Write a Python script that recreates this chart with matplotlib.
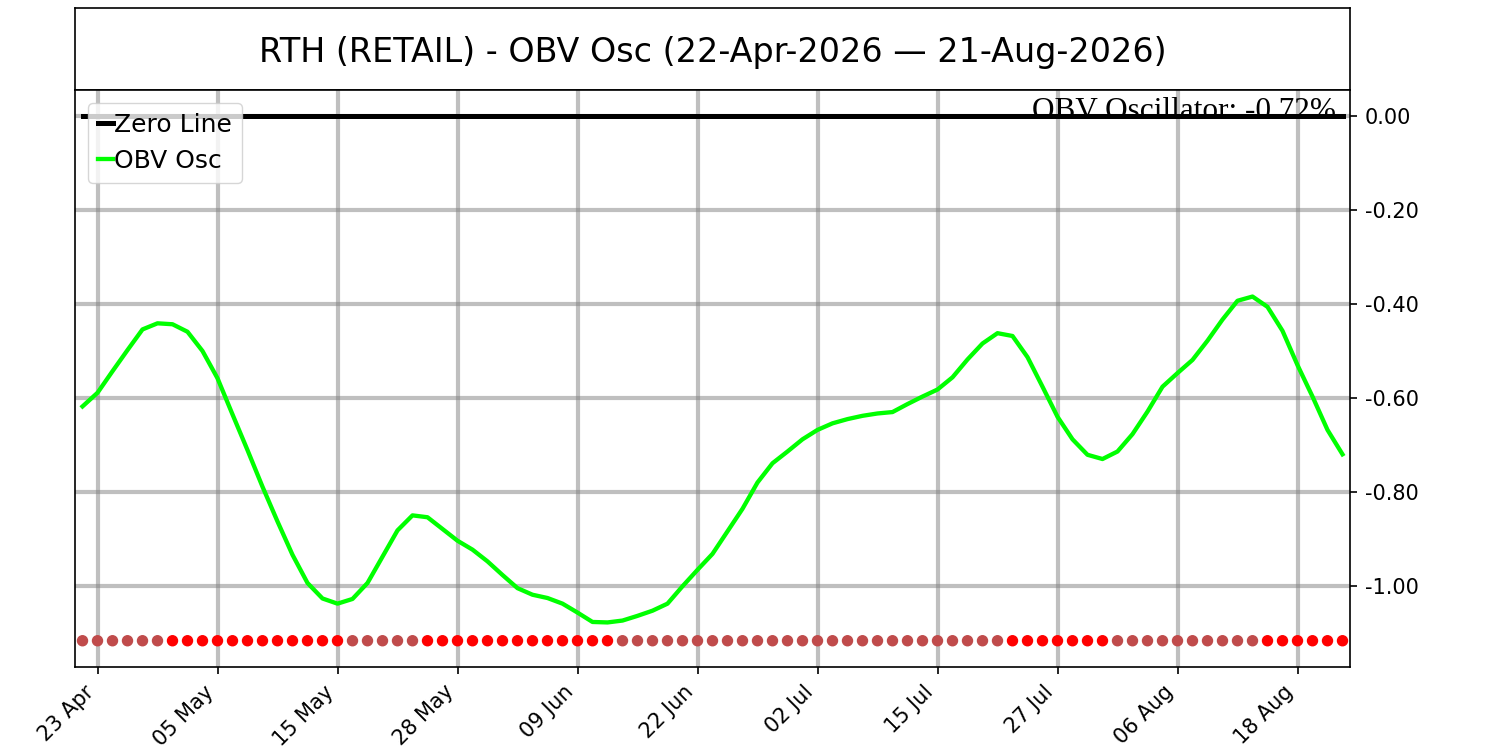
import numpy as np
import pandas as pd
import matplotlib
matplotlib.use("Agg")
import matplotlib.pyplot as plt
from matplotlib.ticker import FormatStrFormatter

ticker_name = "RTH (RETAIL)"
start_date = "2026-04-22"
end_date = "2026-08-21"
market_holidays = ["2026-05-25", "2026-06-19", "2026-07-03"]

# OBV oscillator values, one per trading day (in %)
obv_osc = [-0.618, -0.589, -0.543, -0.498, -0.454, -0.441, -0.443, -0.459, -0.500, -0.558,
	-0.635, -0.711, -0.789, -0.863, -0.934, -0.994, -1.027, -1.038, -1.028, -0.994,
	-0.938, -0.882, -0.850, -0.854, -0.879, -0.904, -0.923, -0.948, -0.977, -1.005,
	-1.019, -1.026, -1.038, -1.057, -1.077, -1.078, -1.074, -1.064, -1.053, -1.038,
	-1.001, -0.966, -0.932, -0.884, -0.836, -0.780, -0.739, -0.714, -0.688, -0.668,
	-0.654, -0.645, -0.638, -0.633, -0.630, -0.613, -0.597, -0.582, -0.556, -0.518,
	-0.484, -0.462, -0.468, -0.513, -0.576, -0.640, -0.688, -0.721, -0.730, -0.714,
	-0.677, -0.629, -0.576, -0.547, -0.519, -0.478, -0.433, -0.393, -0.384, -0.406,
	-0.457, -0.530, -0.597, -0.668, -0.720]
signal_level = -1.117

dates = pd.bdate_range(start_date, end_date, freq="C", holidays=market_holidays)
x = np.arange(len(obv_osc))
osc = np.array(obv_osc)

# falling -> red, rising -> muted red
diff = np.diff(osc, prepend=np.nan)
dot_colors = np.where(diff < 0, "#ff0000", "#c04b4b")

fig = plt.figure(figsize=(15, 7.5), dpi=100)
ax_title = fig.add_axes([0.05, 0.88, 0.85, 0.1093])
ax = fig.add_axes([0.05, 0.1107, 0.85, 0.7693])

for a in (ax, ax_title):
	for sp in a.spines.values():
		sp.set_linewidth(1.2)

ax_title.set_xticks([])
ax_title.set_yticks([])
ax_title.text(0.5, 0.46, "%s - OBV Osc (%s \u2014 %s)" % (ticker_name, dates[0].strftime("%d-%b-%Y"), dates[-1].strftime("%d-%b-%Y")),
	ha="center", va="center", fontsize=24, transform=ax_title.transAxes)

ax.plot(x, np.zeros(len(x)), color="black", lw=3.6, label="Zero Line", zorder=4)
ax.plot(x, osc, color="#00ff00", lw=3.1, label="OBV Osc", zorder=3)
ax.scatter(x, np.full(len(x), signal_level), c=dot_colors, s=52, zorder=3)

ax.text(0.989, 0.950, "OBV Oscillator: %.2f%%" % osc[-1], transform=ax.transAxes, ha="right", va="baseline",
	fontsize=22.5, family="Liberation Serif", zorder=2)

ax.grid(True, color="gray", alpha=0.5, lw=3)
ax.set_xlim(-0.5, len(x) - 0.5)
ax.yaxis.tick_right()
ax.yaxis.set_major_formatter(FormatStrFormatter("%.2f"))
ax.tick_params(axis="both", labelsize=15, length=5.25, width=1.2, pad=5.25)

tick_pos = x[1::8]
ax.set_xticks(tick_pos)
ax.set_xticklabels([dates[i].strftime("%d %b") for i in tick_pos], rotation=45, ha="right")

ax.legend(loc="upper left", fontsize=18, handlelength=0.6, handletextpad=0.05)

fig.savefig("out.png", dpi=100)
